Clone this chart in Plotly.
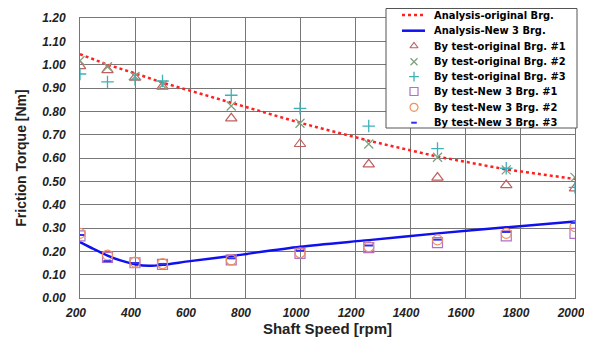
import plotly.graph_objects as go

# ---------------- data ----------------
speed = [200, 300, 400, 500, 750, 1000, 1250, 1500, 1750, 2000]

ana_orig_x = [200, 300, 400, 500, 750, 1000, 1250, 1500, 1750, 2000]
ana_orig_y = [1.045, 1.0, 0.963, 0.923, 0.837, 0.751, 0.674, 0.606, 0.551, 0.51]

ana_new_x = [200, 250, 300, 350, 400, 450, 500, 600, 750, 1000, 1250, 1500, 1750, 2000]
ana_new_y = [0.24, 0.21, 0.182, 0.16, 0.145, 0.138, 0.142, 0.158, 0.18, 0.22, 0.248, 0.277, 0.303, 0.328]

orig1 = [0.994, 0.977, 0.944, 0.906, 0.77, 0.66, 0.573, 0.516, 0.484, 0.47]
orig2 = [1.017, 0.991, 0.949, 0.913, 0.823, 0.749, 0.66, 0.603, 0.549, 0.517]
orig3 = [0.96, 0.926, 0.937, 0.93, 0.869, 0.813, 0.737, 0.64, 0.556, 0.474]
new1 = [0.266, 0.174, 0.151, 0.144, 0.163, 0.191, 0.216, 0.237, 0.266, 0.277]
new2 = [0.277, 0.184, 0.154, 0.147, 0.163, 0.194, 0.22, 0.249, 0.277, 0.306]
new3 = [0.27, 0.158, 0.15, 0.146, 0.17, 0.203, 0.225, 0.25, 0.283, 0.322]

names = ["Analysis-original Brg.", "Analysis-New 3 Brg.",
         "By test-original Brg. #1", "By test-original Brg. #2", "By test-original Brg. #3",
         "By test-New 3 Brg. #1", "By test-New 3 Brg. #2", "By test-New 3 Brg. #3"]

x_ticks = [200, 400, 600, 800, 1000, 1200, 1400, 1600, 1800, 2000]
y_ticks = [0.0, 0.1, 0.2, 0.3, 0.4, 0.5, 0.6, 0.7, 0.8, 0.9, 1.0, 1.1, 1.2]

# ---------------- styles ----------------
C_RED, C_BLUE = "#ff2020", "#1010ee"
marker_styles = [
    dict(symbol="triangle-up-open", color="#c06060", line=dict(width=1.2, color="#c06060")),
    dict(symbol="x-thin-open", color="#80a080", line=dict(width=1.3, color="#80a080")),
    dict(symbol="cross-thin-open", color="#40b0b8", line=dict(width=1.3, color="#40b0b8")),
    dict(symbol="square-open", color="#b070c8", line=dict(width=1.2, color="#b070c8")),
    dict(symbol="circle-open", color="#f0905a", line=dict(width=1.2, color="#f0905a")),
    dict(symbol="line-ew-open", color="#3030f0", line=dict(width=2, color="#3030f0")),
]
marker_sizes = [10, 9, 9, 10, 10, 6]
legend_sizes = [7, 7, 7, 8, 8, 4]

fig = go.Figure()
fig.add_trace(go.Scatter(x=ana_orig_x, y=ana_orig_y, mode="lines", name=names[0],
                         line=dict(color=C_RED, width=2.5, dash="dot")))
fig.add_trace(go.Scatter(x=ana_new_x, y=ana_new_y, mode="lines", name=names[1],
                         line=dict(color=C_BLUE, width=2.5, shape="spline", smoothing=0.8)))
for vals, nm, st, sz in zip([orig1, orig2, orig3, new1, new2, new3], names[2:], marker_styles, marker_sizes):
    fig.add_trace(go.Scatter(x=speed, y=vals, mode="markers", name=nm, marker=dict(size=sz, **st)))

# ---------------- legend box (drawn on an overlay subplot in pixel units) ----------------
box_l, box_r, box_t, box_b = 378, 569, 0.5, 120
row_y = [7, 22.7, 38, 53.7, 68.7, 83.5, 99.3, 114.7]
sym_x, line_x0, line_x1, text_x = 406, 394, 417, 424

fig.add_trace(go.Scatter(x=[box_l, box_r, box_r, box_l, box_l], y=[box_t, box_t, box_b, box_b, box_t],
                         mode="lines", fill="toself", fillcolor="white", line=dict(color="#555", width=1),
                         xaxis="x2", yaxis="y2", hoverinfo="skip"))
fig.add_trace(go.Scatter(x=[line_x0, line_x1], y=[row_y[0], row_y[0]], mode="lines",
                         line=dict(color=C_RED, width=2.5, dash="dot"), xaxis="x2", yaxis="y2", hoverinfo="skip"))
fig.add_trace(go.Scatter(x=[line_x0, line_x1], y=[row_y[1], row_y[1]], mode="lines",
                         line=dict(color=C_BLUE, width=2.5), xaxis="x2", yaxis="y2", hoverinfo="skip"))
for ry, st, sz in zip(row_y[2:], marker_styles, legend_sizes):
    fig.add_trace(go.Scatter(x=[sym_x], y=[ry], mode="markers", marker=dict(size=sz, **st),
                             xaxis="x2", yaxis="y2", hoverinfo="skip", cliponaxis=False))
for ry, nm in zip(row_y, names):
    fig.add_annotation(x=text_x, y=ry, xref="x2", yref="y2", text=nm, showarrow=False,
                       xanchor="left", yanchor="middle",
                       font=dict(size=11, color="black", weight="bold",
                                 family="Liberation Sans Narrow, DejaVu Sans Condensed, Liberation Sans, sans-serif"))

tickfont = dict(family="Liberation Sans, Arial, sans-serif", size=12, color="#222", weight="bold", style="italic")
fig.update_layout(
    width=584, height=343,
    margin=dict(l=72, r=5, t=0, b=53),
    paper_bgcolor="white", plot_bgcolor="rgba(0,0,0,0)",
    font=dict(family="Liberation Sans, Arial, sans-serif"),
    showlegend=False,
    xaxis=dict(domain=[0, 495 / 507], range=[200, 2000], tickvals=x_ticks, tickfont=tickfont, automargin=False,
               showgrid=True, gridcolor="#777", gridwidth=1,
               showline=True, linecolor="#777", mirror=True, zeroline=False,
               ticks="outside", ticklen=4, tickcolor="rgba(0,0,0,0)", ticklabelshift=-4,
               title=dict(text="Shaft Speed [rpm]", font=dict(size=15, weight="bold", color="#222"), standoff=4)),
    yaxis=dict(domain=[0, 280 / 290], range=[0, 1.2], tickvals=y_ticks, tickformat=".2f", tickfont=tickfont,
               automargin=False,
               showgrid=True, gridcolor="#777", gridwidth=1,
               showline=True, linecolor="#777", mirror=True, zeroline=False,
               ticks="outside", ticklen=11, tickcolor="rgba(0,0,0,0)",
               title=dict(text="Friction Torque [Nm]", font=dict(size=14, weight="bold", color="#222"), standoff=12)),
    xaxis2=dict(domain=[0, 1], range=[72, 579], anchor="y2", visible=False, fixedrange=True),
    yaxis2=dict(domain=[0, 1], range=[290, 0], anchor="x2", visible=False, fixedrange=True),
)
fig.write_html("out.html")
